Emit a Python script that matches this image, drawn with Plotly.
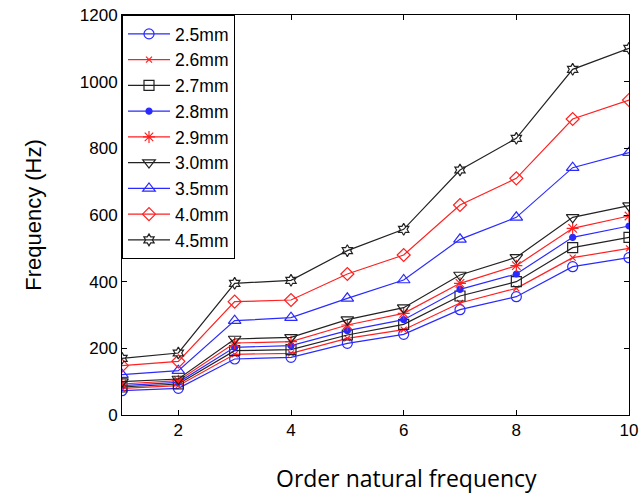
import plotly.graph_objects as go

orders = [1, 2, 3, 4, 5, 6, 7, 8, 9, 10]

f_2_5 = [73, 80, 168, 173, 215, 242, 316, 355, 445, 472]
f_2_6 = [80, 88, 182, 185, 230, 256, 336, 380, 472, 500]
f_2_7 = [84, 93, 193, 196, 240, 272, 357, 400, 502, 533]
f_2_8 = [88, 98, 203, 208, 253, 286, 377, 423, 533, 567]
f_2_9 = [93, 103, 216, 220, 270, 305, 395, 448, 560, 597]
f_3_0 = [100, 108, 228, 233, 286, 322, 420, 473, 593, 628]
f_3_5 = [121, 133, 283, 292, 350, 405, 527, 593, 742, 787]
f_4_0 = [148, 161, 340, 345, 423, 480, 630, 710, 888, 945]
f_4_5 = [170, 186, 395, 404, 493, 557, 735, 830, 1037, 1100]

names = ["2.5mm", "2.6mm", "2.7mm", "2.8mm", "2.9mm", "3.0mm", "3.5mm", "4.0mm", "4.5mm"]
series = [f_2_5, f_2_6, f_2_7, f_2_8, f_2_9, f_3_0, f_3_5, f_4_0, f_4_5]

x_title = "Order natural frequency"
y_title = "Frequency (Hz)"

BLUE = "#2a2aff"
RED = "#ff2020"
BLACK = "#222222"
colors = [BLUE, RED, BLACK, BLUE, RED, BLACK, BLUE, RED, BLACK]
symbols = ["circle-open", "x-thin-open", "square-open", "circle", "asterisk-open",
           "triangle-down-open", "triangle-up-open", "diamond-open", "hexagram-open"]
sizes = [10, 6, 10, 6, 10, 11, 11, 10, 9]

fig = go.Figure()
for name, vals, c, s, sz in zip(names, series, colors, symbols, sizes):
    fig.add_trace(go.Scatter(
        x=orders, y=vals, name=name, mode="lines+markers",
        line=dict(color=c, width=1.2),
        marker=dict(symbol=s, size=sz, color=c, line=dict(color=c, width=1.2)),
    ))

fig.update_layout(
    width=642, height=494,
    margin=dict(l=122, r=13, t=15, b=79),
    paper_bgcolor="white", plot_bgcolor="white",
    font=dict(family="Liberation Sans, Arial, sans-serif", size=17, color="black"),
    showlegend=True,
    legend=dict(x=0, y=1, xanchor="left", yanchor="top",
                bordercolor="black", borderwidth=1, bgcolor="white",
                font=dict(size=17.5), tracegroupgap=0, itemwidth=42),
)
fig.add_annotation(
    text=x_title, xref="paper", yref="paper", x=0.562, y=-0.1575,
    xanchor="center", yanchor="middle", showarrow=False,
    font=dict(family="Open Sans, sans-serif", size=23, color="black"),
)
fig.update_xaxes(
    range=[1, 10], tickvals=[2, 4, 6, 8, 10],
    showgrid=False, zeroline=False, automargin=False,
    showline=True, linecolor="black", linewidth=1, mirror="ticks",
    ticks="inside", ticklen=5, tickcolor="black",
)
fig.update_yaxes(
    range=[0, 1200], tickvals=[0, 200, 400, 600, 800, 1000, 1200],
    showgrid=False, zeroline=False, automargin=False,
    showline=True, linecolor="black", linewidth=1, mirror="ticks",
    ticks="inside", ticklen=5, tickcolor="black",
    title=dict(text=y_title, font=dict(size=22), standoff=32),
)

fig.write_html("out.html")
